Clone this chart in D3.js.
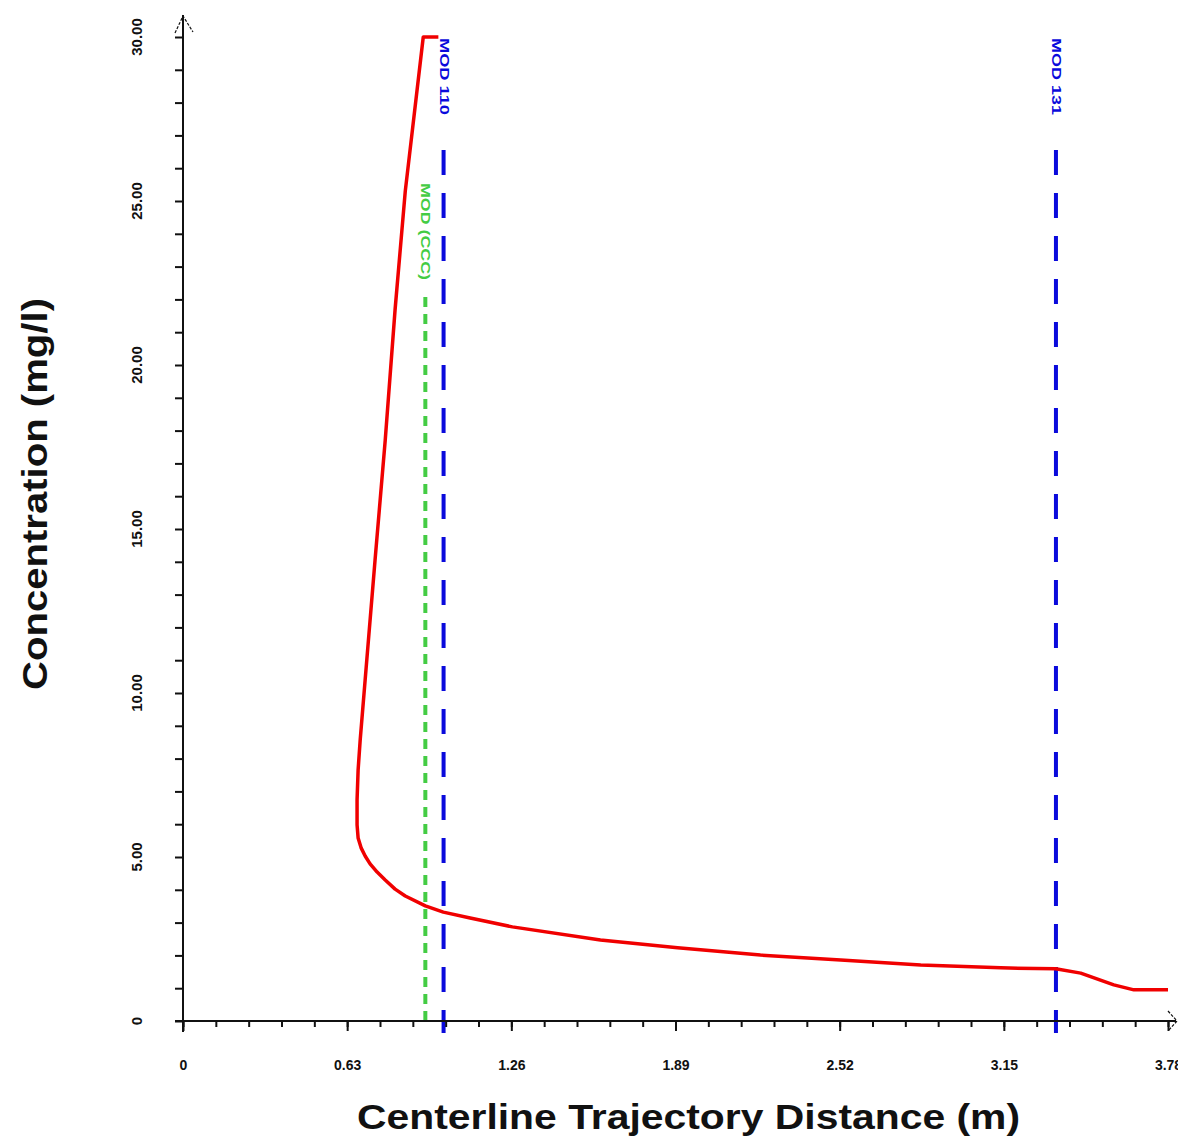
<!DOCTYPE html>
<html>
<head>
<meta charset="utf-8">
<script src="https://cdn.jsdelivr.net/npm/d3@7"></script>
<style>
html,body{margin:0;padding:0;background:#fff;}
svg{display:block;}
</style>
</head>
<body>
<svg id="chart" width="1178" height="1139"></svg>
<script>
// ---- data ----
const distance = [0.980, 0.922, 0.853, 0.814, 0.776, 0.737, 0.699, 0.680, 0.672, 0.668, 0.668, 0.672, 0.684, 0.699, 0.718, 0.745, 0.776, 0.814, 0.853, 0.930, 0.999, 1.102, 1.264, 1.602, 1.898, 2.216, 2.524, 2.831, 3.138, 3.349, 3.445, 3.572, 3.649, 3.780];
const concentration = [30.0, 30.0, 25.3, 21.7, 17.7, 14.05, 10.4, 8.57, 7.65, 6.74, 5.98, 5.58, 5.27, 5.03, 4.79, 4.54, 4.30, 4.02, 3.81, 3.51, 3.32, 3.14, 2.87, 2.47, 2.23, 2.01, 1.86, 1.71, 1.62, 1.59, 1.46, 1.10, 0.95, 0.95];
const xTickLabels = ["0", "0.63", "1.26", "1.89", "2.52", "3.15", "3.78"];
const xTickValues = [0, 0.63, 1.26, 1.89, 2.52, 3.15, 3.78];
const yTickLabels = ["0", "5.00", "10.00", "15.00", "20.00", "25.00", "30.00"];
const yTickValues = [0, 5, 10, 15, 20, 25, 30];
const markerNames = ["MOD 110", "MOD 131", "MOD (CCC)"];
const markerX = [1.0, 3.35, 0.93];
const markerKind = ["blue", "blue", "green"];

// ---- layout ----
const svg = d3.select("#chart");
const x = d3.scaleLinear().domain([0, 3.78]).range([183, 1168]);
const y = d3.scaleLinear().domain([0, 30]).range([1021, 37]);

// vertical marker lines
const markerStyle = {
  blue: {color: "#0a0adc", dash: "25,18", top: 150, bottom: 1033, labelTop: 38, labelLen: 77, width: 4},
  green: {color: "#44cc44", dash: "10,7", top: 297, bottom: 1021, labelTop: 183, labelLen: 97, width: 4}
};
markerX.forEach((mx, i) => {
  const st = markerStyle[markerKind[i]];
  svg.append("line")
    .attr("x1", x(mx)).attr("x2", x(mx))
    .attr("y1", st.top).attr("y2", st.bottom)
    .attr("stroke", st.color).attr("stroke-width", st.width)
    .attr("stroke-dasharray", st.dash);
  svg.append("text")
    .attr("transform", `translate(${x(mx) - 4},${st.labelTop}) rotate(90)`)
    .attr("font-family", "Liberation Sans, Arial, sans-serif")
    .attr("font-weight", "bold")
    .attr("font-size", 12)
    .attr("fill", st.color)
    .attr("textLength", st.labelLen)
    .attr("lengthAdjust", "spacingAndGlyphs")
    .text(markerNames[i]);
});

// axes
const axisColor = "#111";
svg.append("line").attr("x1", 175).attr("x2", 1176).attr("y1", y(0)).attr("y2", y(0))
  .attr("stroke", axisColor).attr("stroke-width", 2);
svg.append("line").attr("x1", x(0)).attr("x2", x(0)).attr("y1", 1032).attr("y2", 15)
  .attr("stroke", axisColor).attr("stroke-width", 2);
svg.append("path").attr("d", `M${x(0)-8},33 L${x(0)},16 L${x(0)+10},32`)
  .attr("fill", "none").attr("stroke", axisColor).attr("stroke-width", 1.2).attr("stroke-dasharray", "3,1.5");
svg.append("path").attr("d", `M1168,1011 L1177,1021 L1168,1031`)
  .attr("fill", "none").attr("stroke", axisColor).attr("stroke-width", 1.2).attr("stroke-dasharray", "3,1.5");

// x ticks
const xMinor = d3.range(0, 31).map(i => +(i * 0.126).toFixed(3));
const xAxisMinor = d3.axisBottom(x).tickValues(xMinor).tickSize(6).tickFormat("");
const gxm = svg.append("g").attr("transform", `translate(0,${y(0)})`).call(xAxisMinor);
gxm.select(".domain").remove();
gxm.selectAll("line").attr("stroke", axisColor).attr("stroke-width", 2);

const xAxisMajor = d3.axisBottom(x).tickValues(xTickValues).tickSize(10)
  .tickFormat((d, i) => xTickLabels[i]).tickPadding(29);
const gx = svg.append("g").attr("transform", `translate(0,${y(0)})`).call(xAxisMajor);
gx.select(".domain").remove();
gx.selectAll("line").attr("stroke", axisColor).attr("stroke-width", 2);
gx.selectAll("text")
  .attr("font-family", "Liberation Sans, Arial, sans-serif")
  .attr("font-weight", "bold").attr("font-size", 14).attr("fill", "#111");

// y ticks
const yMinor = d3.range(0, 31);
const yAxisMinor = d3.axisLeft(y).tickValues(yMinor).tickSize(8).tickFormat("");
const gym = svg.append("g").attr("transform", `translate(${x(0)},0)`).call(yAxisMinor);
gym.select(".domain").remove();
gym.selectAll("line").attr("stroke", axisColor).attr("stroke-width", 2);

const gy = svg.append("g");
gy.selectAll("text").data(yTickValues).join("text")
  .attr("transform", d => `translate(142,${y(d)}) rotate(-90)`)
  .attr("text-anchor", "middle")
  .attr("font-family", "Liberation Sans, Arial, sans-serif")
  .attr("font-weight", "bold").attr("font-size", 15).attr("fill", "#111")
  .text((d, i) => yTickLabels[i]);

// curve
const pts = distance.map((d, i) => [d, concentration[i]]);
const line = d3.line().x(d => x(d[0])).y(d => y(d[1])).curve(d3.curveLinear);
svg.append("path").datum(pts).attr("d", line)
  .attr("fill", "none").attr("stroke", "#f00000").attr("stroke-width", 3.5)
  .attr("stroke-linejoin", "round");

// axis titles
svg.append("text")
  .attr("x", 357).attr("y", 1129)
  .attr("font-family", "Liberation Sans, Arial, sans-serif")
  .attr("font-weight", "bold").attr("font-size", 35).attr("fill", "#111")
  .attr("textLength", 663).attr("lengthAdjust", "spacingAndGlyphs")
  .text("Centerline Trajectory Distance (m)");
svg.append("text")
  .attr("transform", "translate(47,690) rotate(-90)")
  .attr("font-family", "Liberation Sans, Arial, sans-serif")
  .attr("font-weight", "bold").attr("font-size", 35).attr("fill", "#111")
  .attr("textLength", 392).attr("lengthAdjust", "spacingAndGlyphs")
  .text("Concentration (mg/l)");
</script>
</body>
</html>
